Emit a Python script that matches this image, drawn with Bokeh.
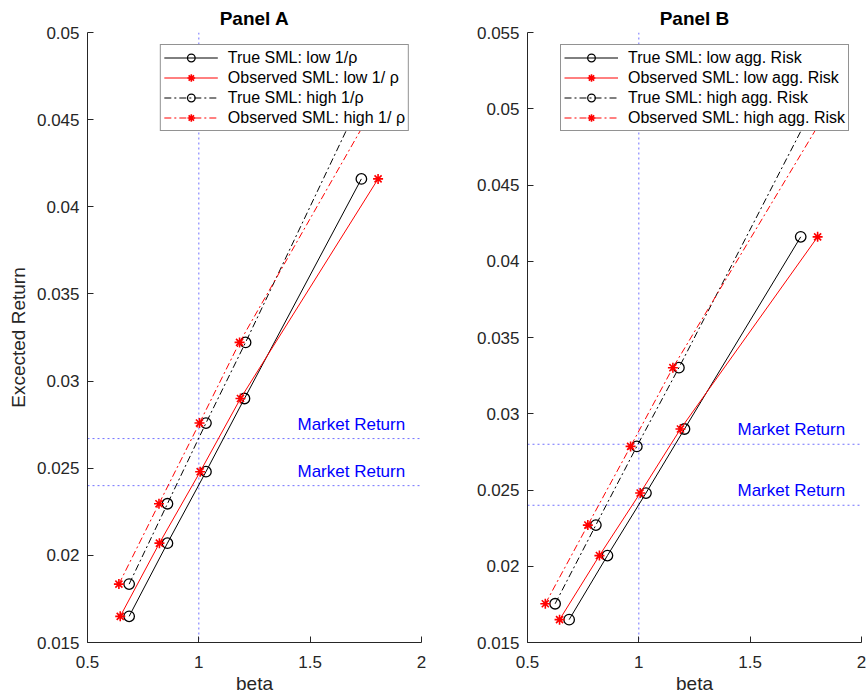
from bokeh.plotting import figure
from bokeh.models import (Range1d, FixedTicker, PrintfTickFormatter, Span,
                          Legend, LegendItem)
from bokeh.layouts import row
from bokeh.core.properties import value
from bokeh.embed import file_html
from bokeh.resources import INLINE

# ---------------- data ----------------
# Panel A
beta_true_low_A = [0.687, 0.859, 1.032, 1.205, 1.730]
beta_obs_low_A = [0.647, 0.823, 1.006, 1.187, 1.805]
ret_low_A = [0.0165, 0.0207, 0.0248, 0.0290, 0.0416]
beta_true_high_A = [0.687, 0.859, 1.032, 1.210, 1.730]
beta_obs_high_A = [0.641, 0.821, 1.003, 1.183, 1.807]
ret_high_A = [0.01835, 0.02296, 0.02759, 0.03222, 0.0462]
market_A = [0.0267, 0.0240]
labels_A = ["True SML: low 1/\u03c1", "Observed SML: low 1/ \u03c1",
            "True SML: high 1/\u03c1", "Observed SML: high 1/ \u03c1"]

# Panel B
beta_true_low_B = [0.687, 0.859, 1.032, 1.205, 1.727]
beta_obs_low_B = [0.644, 0.823, 1.006, 1.187, 1.803]
ret_low_B = [0.0165, 0.0207, 0.0248, 0.0290, 0.0416]
beta_true_high_B = [0.624, 0.807, 0.991, 1.180, 1.790]
beta_obs_high_B = [0.580, 0.771, 0.963, 1.153, 1.863]
ret_high_B = [0.01754, 0.0227, 0.02786, 0.03302, 0.0503]
market_B = [0.0280, 0.0240]
labels_B = ["True SML: low agg. Risk", "Observed SML: low agg. Risk",
            "True SML: high agg. Risk", "Observed SML: high agg. Risk"]

x_ticks = [0.5, 1.0, 1.5, 2.0]
y_ticks_A = [0.015, 0.02, 0.025, 0.03, 0.035, 0.04, 0.045, 0.05]
y_ticks_B = [0.015, 0.02, 0.025, 0.03, 0.035, 0.04, 0.045, 0.05, 0.055]
market_text = "Market Return"

FONT = "Liberation Sans"
AX = "#262626"
DASHDOT = "7 3 2 3"


def make_panel(title, y_max, y_ticks, series, market, labels, width,
               left, right, ylabel=None):
    p = figure(width=width, height=698, x_range=Range1d(0.5, 2.0),
               y_range=Range1d(0.015, y_max), output_backend="svg",
               toolbar_location=None, title=title,
               min_border_left=left, min_border_right=right,
               min_border_top=32, min_border_bottom=56)
    p.outline_line_color = None
    p.grid.visible = False
    p.background_fill_color = "white"
    p.border_fill_color = "white"

    p.title.align = "center"
    p.title.text_font = FONT
    p.title.text_font_size = "19px"
    p.title.text_font_style = "bold"
    p.title.text_color = "black"
    p.title.standoff = 7

    for ax in (p.xaxis[0], p.yaxis[0]):
        ax.axis_line_color = AX
        ax.major_tick_line_color = AX
        ax.minor_tick_line_color = None
        ax.major_tick_in = 6
        ax.major_tick_out = 0
        ax.major_label_text_font = FONT
        ax.major_label_text_font_size = "17px"
        ax.major_label_text_color = AX
        ax.axis_label_text_font = FONT
        ax.axis_label_text_font_size = "19px"
        ax.axis_label_text_font_style = "normal"
        ax.axis_label_text_color = AX
        ax.formatter = PrintfTickFormatter(format="%g")
    p.xaxis.ticker = FixedTicker(ticks=x_ticks)
    p.yaxis.ticker = FixedTicker(ticks=y_ticks)
    p.xaxis.major_label_standoff = 13
    p.yaxis.major_label_standoff = 8
    p.xaxis.axis_label = "beta"
    p.xaxis.axis_label_standoff = 2
    if ylabel:
        p.yaxis.axis_label = ylabel
        p.yaxis.axis_label_standoff = 5

    # reference lines
    p.add_layout(Span(location=1.0, dimension="height", line_color="#7070ff",
                      line_width=1, line_dash="2 3", level="underlay"))
    for m in market:
        p.add_layout(Span(location=m, dimension="width", line_color="#7070ff",
                          line_width=1, line_dash="2 3", level="underlay"))
    p.text(x=[1.443] * len(market), y=market, text=[market_text] * len(market),
           text_color="#0000ff", text_font=value(FONT), text_font_size="17px",
           text_baseline="bottom", text_align="left", y_offset=-5)

    items = []
    for (xs, ys, color, dash, marker), lab in zip(series, labels):
        lr = p.line(xs, ys, line_color=color, line_width=1, line_dash=dash)
        if marker == "circle":
            sr = p.scatter(xs, ys, marker="circle", size=10.5, fill_color=None,
                           line_color=color, line_width=1.3)
        else:
            sr = p.scatter(xs, ys, marker="asterisk", size=10,
                           line_color=color, line_width=1.6)
        items.append(LegendItem(label=lab, renderers=[lr, sr]))

    leg = Legend(items=items, location="top_right", margin=12,
                 padding=3, spacing=1, glyph_width=54, glyph_height=19,
                 label_height=19, label_standoff=10,
                 label_text_font=FONT, label_text_font_size="16px",
                 label_text_color="black",
                 border_line_color=AX, border_line_width=1,
                 background_fill_color="white", background_fill_alpha=1.0)
    p.add_layout(leg)
    return p


series_A = [
    (beta_true_low_A, ret_low_A, "black", "solid", "circle"),
    (beta_obs_low_A, ret_low_A, "red", "solid", "star"),
    (beta_true_high_A, ret_high_A, "black", DASHDOT, "circle"),
    (beta_obs_high_A, ret_high_A, "red", DASHDOT, "star"),
]
series_B = [
    (beta_true_low_B, ret_low_B, "black", "solid", "circle"),
    (beta_obs_low_B, ret_low_B, "red", "solid", "star"),
    (beta_true_high_B, ret_high_B, "black", DASHDOT, "circle"),
    (beta_obs_high_B, ret_high_B, "red", DASHDOT, "star"),
]

pA = make_panel("Panel A", 0.05, y_ticks_A, series_A, market_A, labels_A,
                width=441, left=87, right=20, ylabel="Excected Return")
pB = make_panel("Panel B", 0.055, y_ticks_B, series_B, market_B, labels_B,
                width=425, left=86, right=5)

layout = row(pA, pB)
open("out.html", "w").write(file_html(layout, INLINE))
